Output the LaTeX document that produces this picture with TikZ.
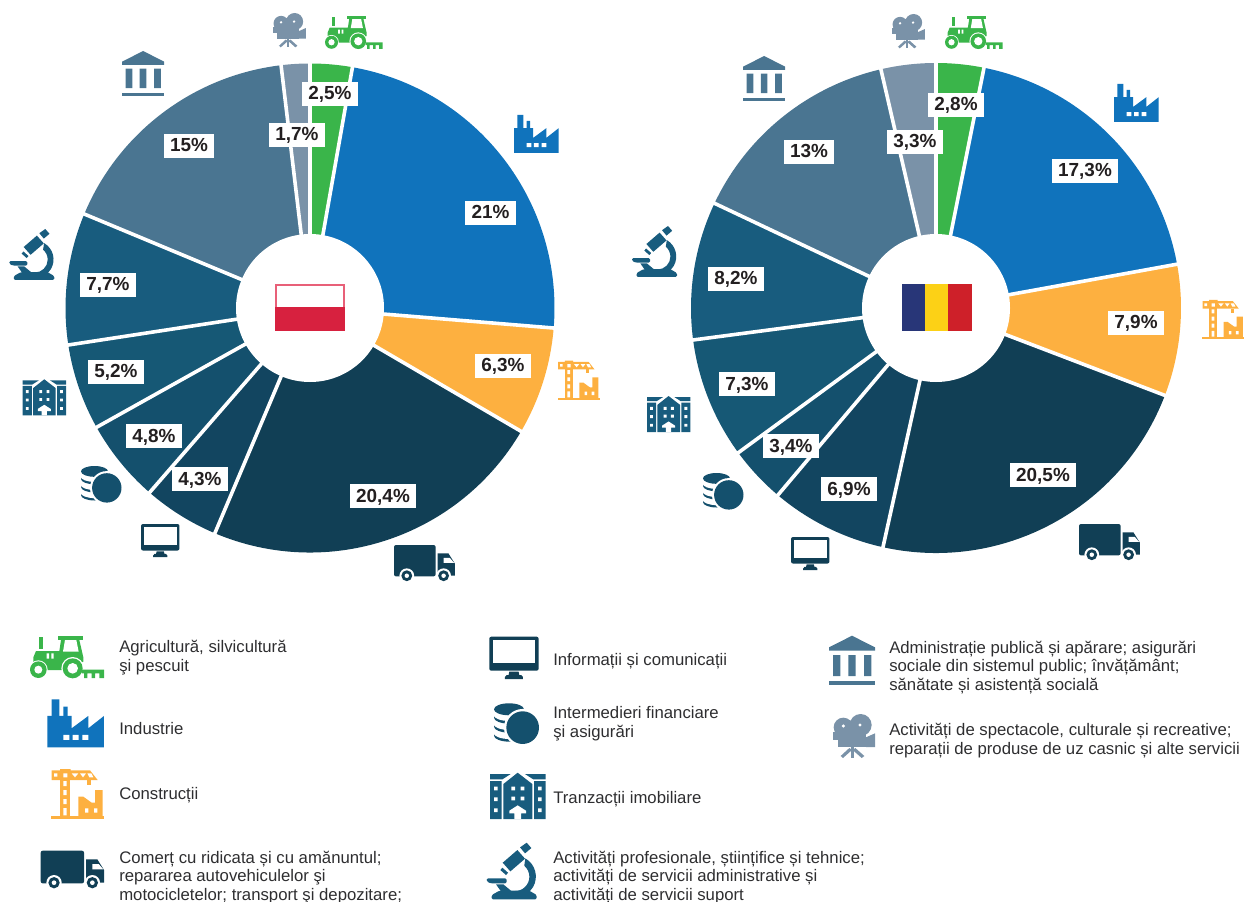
\documentclass[tikz,border=0pt]{standalone}
\usepackage{fontspec}
\setmainfont{Liberation Sans}
\definecolor{cgreen}{HTML}{3AB54A}
\definecolor{cblue}{HTML}{1073BC}
\definecolor{corange}{HTML}{FDB040}
\definecolor{cdark}{HTML}{113F55}
\definecolor{cdarkb}{HTML}{124560}
\definecolor{cmid}{HTML}{14506D}
\definecolor{cmidb}{HTML}{165875}
\definecolor{cteal}{HTML}{185C7E}
\definecolor{cslate}{HTML}{4A7591}
\definecolor{cgrey}{HTML}{7A92A8}
\definecolor{ctext}{HTML}{2E2E30}
\definecolor{clabel}{HTML}{231F20}
\tikzset{
  pctlabel/.style={fill=white,text=clabel,font=\fontsize{14.2}{16}\selectfont\bfseries,inner xsep=4.9pt,inner ysep=0pt,minimum height=18pt,text height=10.5pt,text depth=1.5pt},
  legendtext/.style={text=ctext,font=\fontsize{12.55}{13.8}\selectfont,align=left,inner sep=0pt,anchor=base west},
  gapline/.style={white,line width=2.7pt},
  icontractor/.pic={\begin{scope}[shift={(-90,-48)}]
    \path[pic actions] (117,52) rectangle (130,86);
    \path[pic actions] (175,48) rectangle (248,60);
    \path[pic actions] (100,112) -- (108,93) -- (178,93) -- (183,60) -- (238,60) -- (250,112) -- (250,125) -- (190,150) -- (140,150) -- (100,125) -- cycle;
    \fill[white] (195,60) -- (229,60) -- (236,95) -- (189,95) -- cycle;
    \fill[white] (140,100) rectangle (147,116) (154,100) rectangle (161,116);
    \fill[white] (115,149) circle (28) (218,145) circle (34);
    \path[pic actions] (115,149) circle (25) (218,145) circle (30);
    \fill[white] (115,149) circle (12) (218,145) circle (16);
    \path[pic actions] (246,149) rectangle (312,160) (252,160) rectangle (262,174) (275,160) rectangle (285,174) (298,160) rectangle (312,174);
  \end{scope}},
  iconfactory/.pic={\begin{scope}[shift={(-142,-238)}]
    \path[pic actions] (155,238) rectangle (178,292) (190,260) rectangle (203,292);
    \path[pic actions] (142,288) -- (215,288) -- (215,325) -- (265,288) -- (265,325) -- (312,288) -- (312,382) -- (142,382) -- cycle;
    \fill[white] (190,345) rectangle (208,360) (218,345) rectangle (236,360) (247,345) rectangle (265,360);
  \end{scope}},
  iconcrane/.pic={\begin{scope}[shift={(-153,-447)}]
    \path[pic actions] (153,589) rectangle (312,597);
    \path[pic actions] (180,470) rectangle (210,590);
    \path[pic actions] (155,451) -- (180,451) -- (180,447) -- (212,447) -- (212,451) -- (270,451) -- (293,480) -- (155,480) -- cycle;
    \path[pic actions] (262,480) rectangle (273,495);
    \fill[white] (162,460) rectangle (172,470) (190,460) rectangle (202,472) (215,460) -- (235,460) -- (225,472) -- cycle (240,460) -- (258,460) -- (249,472) -- cycle (262,460) -- (274,460) -- (280,472) -- (268,472) -- cycle;
    \fill[white] (190,483) rectangle (200,498) (190,510) rectangle (200,525) (190,537) rectangle (200,552) (190,564) rectangle (200,586);
    \path[pic actions] (235,530) -- (250,530) -- (275,548) -- (285,548) -- (285,510) -- (308,510) -- (308,590) -- (235,590) -- cycle;
    \fill[white] (255,565) rectangle (265,578) (282,565) rectangle (292,578);
  \end{scope}},
  icontruck/.pic={\begin{scope}[shift={(-122,-692)}]
    \path[pic actions,rounded corners=1.5pt] (122,692) rectangle (252,790);
    \path[pic actions] (258,718) -- (292,718) -- (312,750) -- (312,788) -- (258,788) -- cycle;
    \fill[white] (277,732) -- (296,732) -- (310,748) -- (277,748) -- cycle;
    \fill[white] (162,788) circle (23) (277,788) circle (23);
    \path[pic actions] (162,788) circle (17) (277,788) circle (17);
    \fill[white] (162,788) circle (7) (277,788) circle (7);
  \end{scope}},
  iconmonitor/.pic={\begin{scope}[shift={(-58,-50)}]
    \path[pic actions,rounded corners=1.5pt] (58,50) rectangle (206,152);
    \fill[white] (68,60) rectangle (196,130);
    \path[pic actions] (118,155) -- (146,155) -- (148,165) -- (154,165) -- (159,171) -- (159,177) -- (105,177) -- (105,171) -- (110,165) -- (116,165) -- cycle;
  \end{scope}},
  iconcoins/.pic={\begin{scope}[shift={(-72,-250)}]
    \path[pic actions] (117,347) ellipse [x radius=45,y radius=18];
    \fill[white] (117,339) ellipse [x radius=46,y radius=18];
    \path[pic actions] (117,320) ellipse [x radius=45,y radius=18];
    \fill[white] (117,312) ellipse [x radius=46,y radius=18];
    \path[pic actions] (117,293) ellipse [x radius=45,y radius=18];
    \fill[white] (117,285) ellipse [x radius=46,y radius=18];
    \path[pic actions] (117,268) ellipse [x radius=45,y radius=18];
    \fill[white] (158,323) circle (56);
    \path[pic actions] (158,323) circle (49);
  \end{scope}},
  iconbuilding/.pic={\begin{scope}[shift={(-60,-458)}]
    \path[pic actions] (100,492) -- (143,458) -- (187,492) -- (187,597) -- (100,597) -- cycle;
    \path[pic actions] (60,462) -- (122,462) -- (97,478) -- (60,478) -- cycle (165,462) -- (227,462) -- (227,478) -- (190,478) -- cycle;
    \path[pic actions] (60,483) rectangle (95,597) (192,483) rectangle (227,597);
    \fill[white] (72,500) rectangle (83,511) (72,532) rectangle (83,543) (72,565) rectangle (83,576);
    \fill[white] (204,500) rectangle (215,511) (204,532) rectangle (215,543) (204,565) rectangle (215,576);
    \fill[white] (124,500) rectangle (135,511) (152,500) rectangle (163,511) (124,530) rectangle (135,541) (152,530) rectangle (163,541);
    \fill[white] (118,572) -- (143,556) -- (168,572) -- (168,580) -- (153,580) -- (153,597) -- (133,597) -- (133,580) -- (118,580) -- cycle;
  \end{scope}},
  iconscope/.pic={\begin{scope}[shift={(-50,-668)}]
    \path[pic actions] (98,728) -- (142,690) -- (165,716) -- (121,754) -- cycle;
    \path[pic actions] (150,682) -- (170,668) -- (184,684) -- (165,700) -- cycle;
    \path[pic actions] (91,750) -- (97,743) -- (114,758) -- (108,765) -- cycle;
    \path[pic actions] (166,715) arc (-60:90:63) -- (135,813) arc (90:-50:43) -- cycle;
    \path[pic actions,rounded corners=1pt] (65,838) -- (65,825) -- (88,812) -- (178,812) -- (200,825) -- (200,838) -- cycle;
    \path[pic actions,rounded corners=1pt] (50,775) -- (110,775) -- (110,790) -- (62,790) -- (50,784) -- cycle;
    \path[pic actions] (78,793) -- (100,793) -- (124,813) -- (92,813) -- cycle;
  \end{scope}},
  icontemple/.pic={\begin{scope}[shift={(-1077,-47)}]
    \path[pic actions] (1146,47) -- (1215,82) -- (1215,92) -- (1077,92) -- (1077,82) -- cycle;
    \path[pic actions] (1089,105) rectangle (1111,168) (1135,105) rectangle (1157,168) (1182,105) rectangle (1204,168);
    \path[pic actions] (1077,183) rectangle (1215,194);
  \end{scope}},
  iconcamera/.pic={\begin{scope}[shift={(-1089,-282)}]
    \path[pic actions] (1120,322) circle (29) (1172,315) circle (33);
    \path[pic actions] (1103,326) rectangle (1188,381);
    \path[pic actions] (1089,335) rectangle (1103,360);
    \path[pic actions] (1188,352) -- (1215,340) -- (1215,381) -- (1188,381) -- cycle;
    \fill[white] (1120,318) circle (5) (1170,315) circle (5);
    \path[pic actions] (1143,380) rectangle (1151,414);
    \path[pic actions] (1138,384) -- (1146,390) -- (1119,414) -- (1112,408) -- cycle;
    \path[pic actions] (1156,384) -- (1148,390) -- (1175,414) -- (1183,408) -- cycle;
  \end{scope}}
}
\begin{document}
\begin{tikzpicture}[x=0.75pt,y=-0.75pt]
\useasboundingbox (0,0) rectangle (1246,902);
% left pie
\coordinate (cL) at (310,308);
\foreach \a/\b/\c in {-90/-80/cgreen,-80/4.7/cblue,4.7/30.3/corange,30.3/112.9/cdark,112.9/131/cdarkb,131/150.8/cmid,150.8/171.3/cmidb,171.3/202.6/cteal,202.6/263.2/cslate,263.2/270/cgrey}
  \fill[\c] (cL) -- ++(\a:244.5) arc (\a:\b:244.5) -- cycle;
\foreach \a in {-90,-80,4.7,30.3,112.9,131,150.8,171.3,202.6,263.2}
  \draw[gapline] (cL) -- ++(\a:248);
\fill[white] (cL) circle (74);
% right pie
\coordinate (cR) at (936,308);
\foreach \a/\b/\c in {-90/-78.7/cgreen,-78.7/-10.3/cblue,-10.3/20.9/corange,20.9/102.5/cdark,102.5/130.2/cdarkb,130.2/143.8/cmid,143.8/172.5/cmidb,172.5/205.3/cteal,205.3/257/cslate,257/270/cgrey}
  \fill[\c] (cR) -- ++(\a:245) arc (\a:\b:245) -- cycle;
\foreach \a in {-90,-78.7,-10.3,20.9,102.5,130.2,143.8,172.5,205.3,257}
  \draw[gapline] (cR) -- ++(\a:249);
\fill[white] (cR) circle (74);
% flags
\draw[color={rgb,255:red,232;green,96;blue,120},line width=0.9pt] (276,285) rectangle (344,308);
\fill[color={rgb,255:red,215;green,33;blue,63}] (275,307) rectangle (345,331);
\fill[color={rgb,255:red,40;green,54;blue,120}] (902,284) rectangle (925,331);
\fill[color={rgb,255:red,252;green,209;blue,22}] (925,284) rectangle (948,331);
\fill[color={rgb,255:red,206;green,32;blue,41}] (948,284) rectangle (972,331);
% percent labels, left
\node[pctlabel] (l1) at (330,94) {2,5\%};
\node[pctlabel] (l2) at (297,135) {1,7\%};
\node[pctlabel] (l3) at (189,146) {15\%};
\node[pctlabel] (l4) at (108,285) {7,7\%};
\node[pctlabel] (l5) at (490.5,213) {21\%};
\node[pctlabel] (l6) at (503,366) {6,3\%};
\node[pctlabel] (l7) at (383,496) {20,4\%};
\node[pctlabel] (l8) at (200,479) {4,3\%};
\node[pctlabel] (l9) at (154,436) {4,8\%};
\node[pctlabel] (l10) at (116,372) {5,2\%};
% percent labels, right
\node[pctlabel] (r1) at (956,105) {2,8\%};
\node[pctlabel] (r2) at (915,142) {3,3\%};
\node[pctlabel] (r3) at (809,152) {13\%};
\node[pctlabel] (r4) at (736,279) {8,2\%};
\node[pctlabel] (r5) at (1085,171) {17,3\%};
\node[pctlabel] (r6) at (1136,323) {7,9\%};
\node[pctlabel] (r7) at (1043,475) {20,5\%};
\node[pctlabel] (r8) at (849,489) {6,9\%};
\node[pctlabel] (r9) at (791,446) {3,4\%};
\node[pctlabel] (r10) at (747,384) {7,3\%};
% chart icons, left
\pic[fill=cgrey,scale=.26] at (273,13) {iconcamera};
\pic[fill=cgreen,scale=.26] at (325,16) {icontractor};
\pic[fill=cslate,scale=.306] at (122,51) {icontemple};
\pic[fill=cteal,scale=.3] at (9.3,229) {iconscope};
\pic[fill=cblue,scale=.263] at (514,115) {iconfactory};
\pic[fill=corange,scale=.263] at (557.7,360.7) {iconcrane};
\pic[fill=cdark,scale=.32] at (394,545) {icontruck};
\pic[fill=cdark,scale=.26] at (141,524) {iconmonitor};
\pic[fill=cmid,scale=.3] at (81,466) {iconcoins};
\pic[fill=cteal,scale=.26] at (22.7,379.3) {iconbuilding};
% chart icons, right
\pic[fill=cgrey,scale=.26] at (892,14) {iconcamera};
\pic[fill=cgreen,scale=.26] at (945,16) {icontractor};
\pic[fill=cslate,scale=.306] at (743,56) {icontemple};
\pic[fill=cteal,scale=.3] at (632,226) {iconscope};
\pic[fill=cblue,scale=.263] at (1114,84) {iconfactory};
\pic[fill=corange,scale=.263] at (1202,300) {iconcrane};
\pic[fill=cdark,scale=.32] at (1079,524) {icontruck};
\pic[fill=cdark,scale=.26] at (791,537) {iconmonitor};
\pic[fill=cmid,scale=.3] at (703,473) {iconcoins};
\pic[fill=cteal,scale=.26] at (647,396) {iconbuilding};
% legend icons
\pic[fill=cgreen,scale=1/3] at (30,636) {icontractor};
\pic[fill=cblue,scale=1/3] at (47.3,699.3) {iconfactory};
\pic[fill=corange,scale=1/3] at (51,769) {iconcrane};
\pic[fill=cdark,scale=1/3] at (40.7,850.7) {icontruck};
\pic[fill=cdark,scale=1/3] at (489.3,636.7) {iconmonitor};
\pic[fill=cmid,scale=1/3] at (494,703.3) {iconcoins};
\pic[fill=cteal,scale=1/3] at (490,772.7) {iconbuilding};
\pic[fill=cteal,scale=1/3] at (486.7,842.7) {iconscope};
\pic[fill=cslate,scale=1/3] at (829,635.7) {icontemple};
\pic[fill=cgrey,scale=1/3] at (833,714) {iconcamera};
% legend texts (a node's base is its last line)
\node[legendtext] (t1) at (119,671) {Agricultură, silvicultură\\şi pescuit};
\node[legendtext] (t2) at (119,734) {Industrie};
\node[legendtext] (t3) at (119,799) {Construcții};
\node[legendtext] (t4) at (119,900) {Comerț cu ridicata și cu amănuntul;\\repararea autovehiculelor şi\\motocicletelor; transport şi depozitare;};
\node[legendtext] (t5) at (553,665) {Informații și comunicații};
\node[legendtext] (t6) at (553,737) {Intermedieri financiare\\şi asigurări};
\node[legendtext] (t7) at (553,803) {Tranzacții imobiliare};
\node[legendtext] (t8) at (553,900) {Activități profesionale, științifice și tehnice;\\activități de servicii administrative și\\activități de servicii suport};
\node[legendtext] (t9) at (889,690) {Administrație publică și apărare; asigurări\\sociale din sistemul public; învățământ;\\sănătate și asistență socială};
\node[legendtext] (t10) at (889,754) {Activități de spectacole, culturale și recreative;\\reparații de produse de uz casnic și alte servicii};
\end{tikzpicture}
\end{document}
